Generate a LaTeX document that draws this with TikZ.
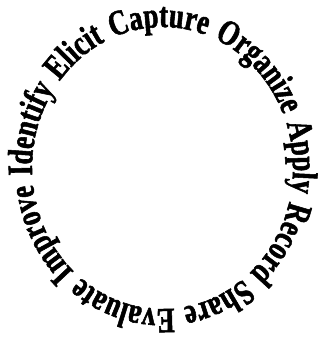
\documentclass[tikz,border=0pt]{standalone}
\usepackage{fontspec}
\newfontfamily\wafont{Liberation Serif}[FakeStretch=0.755, WordSpace=1.33, BoldFeatures={FakeBold=1.5}]
\newcommand\wastyle{\wafont\bfseries\fontsize{35.5}{40}\selectfont}
\usetikzlibrary{decorations.text}
\tikzset{
  ringtext/.style={decorate, decoration={text along path,
    text={|\wastyle|Identify Elicit Capture Organize Apply Record Share Evaluate Improve}}}
}
\begin{document}
\begin{tikzpicture}[x=1pt,y=1pt]
\useasboundingbox (0,0) rectangle (321,346);
\coordinate (c) at (162.5,178);
\path[ringtext] (c) ++(183:130.5 and 141)
  arc[start angle=183, delta angle=-360, x radius=130.5, y radius=141];
\end{tikzpicture}
\end{document}
